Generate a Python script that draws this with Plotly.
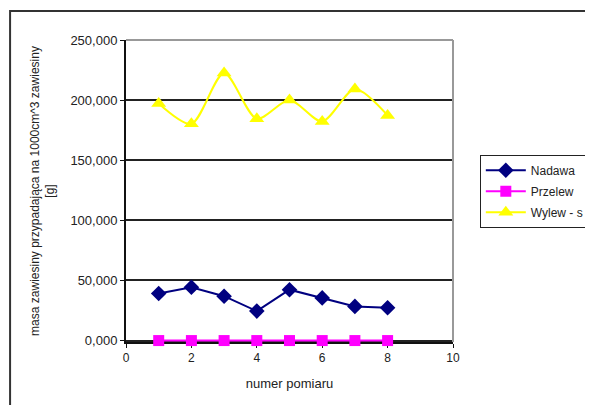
import plotly.graph_objects as go

pomiar = [1, 2, 3, 4, 5, 6, 7, 8]
nadawa = [39.2, 44.3, 36.9, 24.5, 42.3, 35.5, 28.4, 27.3]
przelew = [0.0, 0.0, 0.0, 0.0, 0.0, 0.0, 0.0, 0.0]
wylew_s = [197.2, 180.3, 222.6, 184.5, 200.0, 182.2, 209.3, 187.3]

x_ticks = [0, 2, 4, 6, 8, 10]
y_ticks = [0, 50, 100, 150, 200, 250]

font = "Liberation Sans, Arial, sans-serif"

fig = go.Figure()
fig.add_trace(go.Scatter(
    x=pomiar, y=nadawa, name="Nadawa", mode="lines+markers", legendgroup="a",
    line=dict(color="#000080", width=2),
    marker=dict(symbol="diamond", size=12, color="#000080"),
    cliponaxis=False,
))
fig.add_trace(go.Scatter(
    x=pomiar, y=przelew, name="Przelew", mode="lines+markers", legendgroup="b",
    line=dict(color="#FF00FF", width=2),
    marker=dict(symbol="square", size=11, color="#FF00FF"),
    cliponaxis=False,
))
fig.add_trace(go.Scatter(
    x=pomiar, y=wylew_s, name="Wylew - s", mode="lines+markers", legendgroup="c",
    line=dict(color="#FFFF00", width=2, shape="spline", smoothing=0.8),
    marker=dict(symbol="triangle-up", size=13, color="#FFFF00"),
    cliponaxis=False,
))

fig.update_layout(
    width=593, height=405,
    margin=dict(l=118, r=145, t=32, b=71),
    paper_bgcolor="white", plot_bgcolor="white",
    separators=", ",
    font=dict(family=font, size=12, color="#222"),
    showlegend=True,
    legend=dict(
        x=1.082, y=0.62, xanchor="left", yanchor="top",
        bordercolor="#222", borderwidth=1, bgcolor="white",
        font=dict(size=12, color="#222"),
        tracegroupgap=2, itemwidth=40,
    ),
    xaxis=dict(
        range=[0, 10], tickvals=x_ticks, showgrid=False, zeroline=False,
        showline=True, linecolor="#111", linewidth=2, layer="below traces",
        ticks="outside", ticklen=4, tickcolor="#111",
        tickfont=dict(size=12),
        title=dict(text="numer pomiaru", font=dict(size=13), standoff=14),
    ),
    yaxis=dict(
        range=[-1.2, 250], tickvals=y_ticks, tickformat=".3f",
        showgrid=True, gridcolor="#222", gridwidth=1.5, zeroline=False,
        showline=True, linecolor="#111", linewidth=2, layer="below traces",
        ticks="outside", ticklen=4, tickcolor="#111",
        tickfont=dict(size=13),
        title=dict(text="masa zawiesiny przypadająca na 1000cm^3 zawiesiny<br>[g]",
                   font=dict(size=12), standoff=13),
    ),
    shapes=[
        dict(type="line", xref="paper", yref="paper", x0=0, x1=1, y0=1, y1=1,
             line=dict(color="#999", width=2)),
        dict(type="line", xref="paper", yref="paper", x0=1, x1=1, y0=0, y1=1,
             line=dict(color="#999", width=2)),
        dict(type="rect", xref="paper", yref="paper",
             x0=-0.3545, x1=1.6, y0=-0.5, y1=1.096,
             line=dict(color="#333", width=2)),
    ],
)

fig.write_html("out.html")
